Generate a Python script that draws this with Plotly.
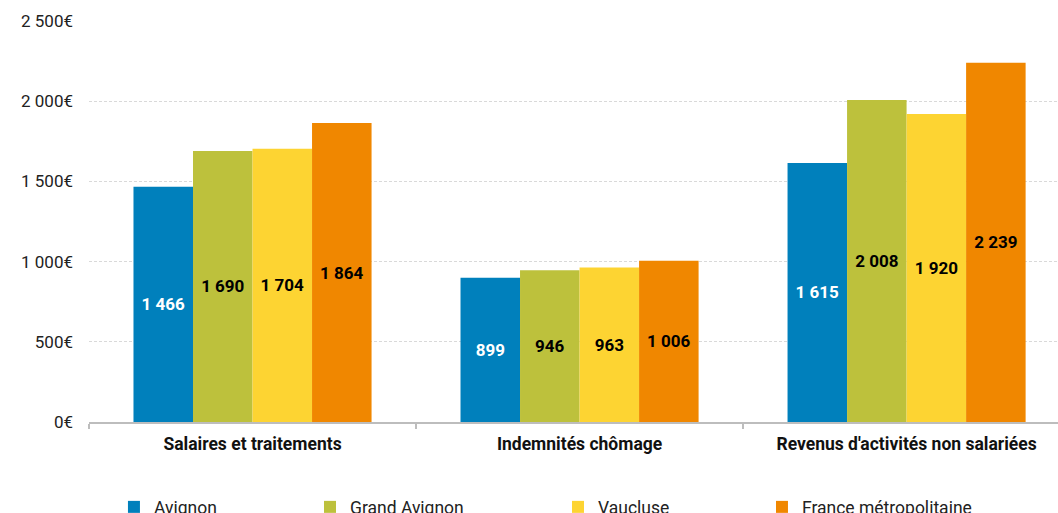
import plotly.graph_objects as go

categories = ["Salaires et traitements", "Indemnités chômage", "Revenus d'activités non salariées"]
series_names = ["Avignon", "Grand Avignon", "Vaucluse", "France métropolitaine"]
avignon = [1466, 899, 1615]
grand_avignon = [1690, 946, 2008]
vaucluse = [1704, 963, 1920]
france = [1864, 1006, 2239]
values = [avignon, grand_avignon, vaucluse, france]
colors = ["#0080BC", "#BDC13C", "#FDD432", "#F08700"]
text_colors = ["white", "black", "black", "black"]
legend_x = [0.1077, 0.2930, 0.5274, 0.7202]
legend_ids = ["legend", "legend2", "legend3", "legend4"]

fig = go.Figure()
for name, vals, col, tcol, lid in zip(series_names, values, colors, text_colors, legend_ids):
    fig.add_trace(go.Bar(
        name=name, x=categories, y=vals, marker_color=col,
        marker_line_width=0, showlegend=True,
        texttemplate="%{y:,d}", textposition="inside",
        insidetextanchor="middle", textangle=0,
        insidetextfont=dict(color=tcol, size=17, family="Roboto", weight="bold"),
        legend=lid, hoverinfo="skip",
    ))

layout_legends = {}
for lid, lx in zip(legend_ids, legend_x):
    layout_legends[lid] = dict(
        x=lx, y=0.0117, xref="container", yref="container",
        xanchor="left", yanchor="middle",
        orientation="h", font=dict(size=17.5, family="Roboto", color="#222"),
        bgcolor="rgba(0,0,0,0)", itemwidth=30,
    )

fig.update_layout(
    width=1058, height=513,
    margin=dict(l=89, r=0, t=21, b=91, autoexpand=False),
    paper_bgcolor="white", plot_bgcolor="white",
    separators=", ",
    barmode="group", bargap=0.272, bargroupgap=0,
    font=dict(family="Roboto", size=17, color="#222"),
    uniformtext=dict(mode="show", minsize=17),
    showlegend=True,
    xaxis=dict(
        type="category", range=[-0.5, 2.463], automargin=False,
        showline=True, linecolor="#BDBDBD", linewidth=1.5,
        ticks="outside", tickson="boundaries", ticklen=5, tickcolor="#BDBDBD",
        tickwidth=1.5,
        tickfont=dict(size=17.5, family="Roboto", weight="bold", color="#111"),
        ticklabelstandoff=5,
        showgrid=False,
    ),
    yaxis=dict(
        range=[0, 2500], dtick=500, tickformat=",d", ticksuffix="€",
        automargin=False,
        showgrid=True, gridcolor="#D9D9D9", griddash="3px,2px", gridwidth=1,
        zeroline=False, showline=False,
        tickfont=dict(size=17, family="Roboto", color="#222"),
        ticklabelstandoff=15,
    ),
    **layout_legends,
)

fig.write_html(
    "out.html",
    config={"displayModeBar": False},
    post_script="document.body.style.margin='0';document.body.style.overflow='hidden';",
)
